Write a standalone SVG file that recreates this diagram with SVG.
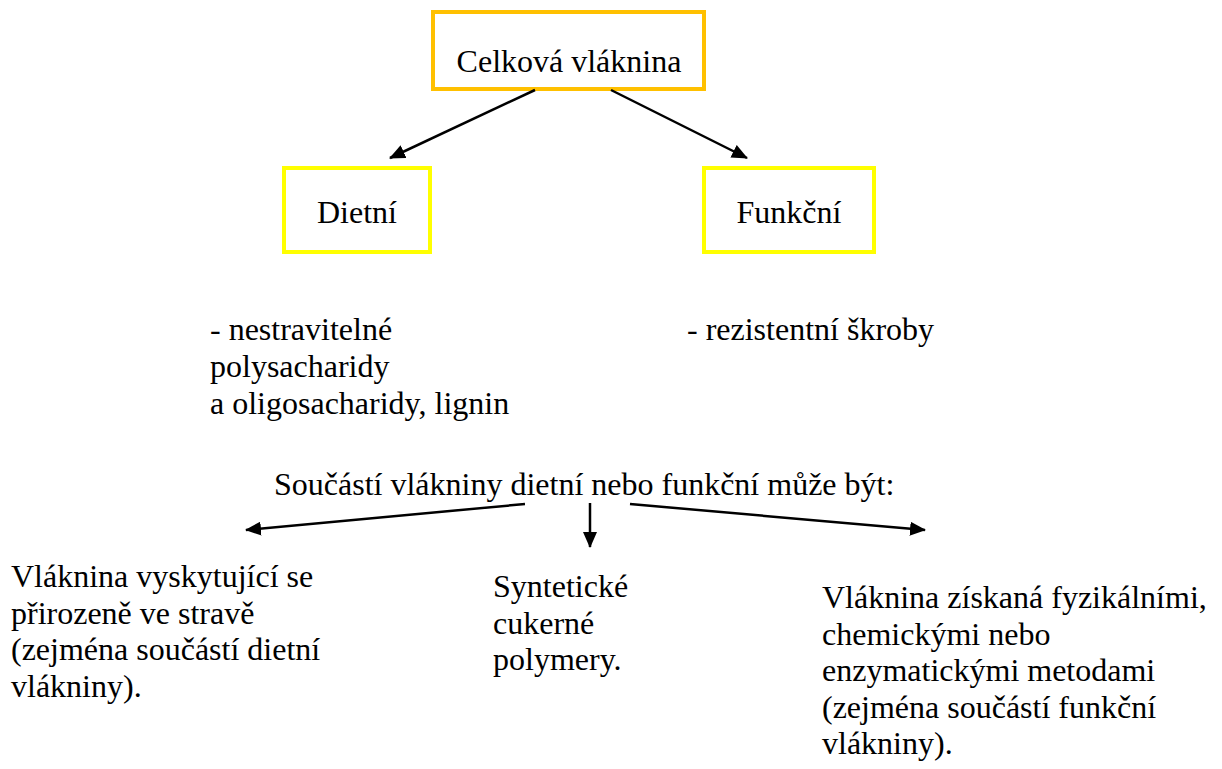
<svg xmlns="http://www.w3.org/2000/svg" width="1222" height="769" viewBox="0 0 1222 769">
<style>
text{font-family:"Liberation Serif","Times New Roman","DejaVu Serif",serif;font-size:32px;fill:#000}
.c{text-anchor:middle}
.box{fill:#fff;stroke-width:4}
.ln{stroke:#000;stroke-width:2.5;fill:none;marker-end:url(#ah)}
</style>
<defs>
<marker id="ah" viewBox="0 0 16 14" refX="15" refY="7" markerWidth="16" markerHeight="14" markerUnits="userSpaceOnUse" orient="auto"><path d="M0,0 L16,7 L0,14 z" fill="#000"/></marker>
</defs>
<rect width="1222" height="769" fill="#fff"/>
<g id="celkova"><rect class="box" x="433" y="12" width="271" height="77" stroke="#FFC000"/><text class="c" x="569" y="72">Celková vláknina</text></g>
<g id="dietni"><rect class="box" x="284" y="168" width="146" height="84" stroke="#FFFF00"/><text class="c" x="357" y="223">Dietní</text></g>
<g id="funkcni"><rect class="box" x="704" y="168" width="170" height="84" stroke="#FFFF00"/><text class="c" x="789" y="223">Funkční</text></g>
<g id="connectors">
<line class="ln" x1="535" y1="90" x2="390" y2="158"/>
<line class="ln" x1="611" y1="90" x2="747" y2="158"/>
<line class="ln" x1="525" y1="504" x2="246" y2="530"/>
<line class="ln" x1="590" y1="503" x2="590" y2="547"/>
<line class="ln" x1="630" y1="504" x2="925" y2="530"/>
</g>
<g id="t-dietni"><text x="210" y="340">- nestravitelné</text><text x="210" y="377">polysacharidy</text><text x="210" y="414">a oligosacharidy, lignin</text></g>
<g id="t-funkcni"><text x="687" y="340">- rezistentní škroby</text></g>
<g id="t-soucasti"><text x="274" y="495">Součástí vlákniny dietní nebo funkční může být:</text></g>
<g id="t-left"><text x="11" y="587">Vláknina vyskytující se</text><text x="11" y="624">přirozeně ve stravě</text><text x="11" y="660">(zejména součástí dietní</text><text x="11" y="697">vlákniny).</text></g>
<g id="t-mid"><text x="493" y="597">Syntetické</text><text x="493" y="634">cukerné</text><text x="493" y="670">polymery.</text></g>
<g id="t-right"><text x="822" y="608">Vláknina získaná fyzikálními,</text><text x="822" y="645">chemickými nebo</text><text x="822" y="681">enzymatickými metodami</text><text x="822" y="718">(zejména součástí funkční</text><text x="822" y="754">vlákniny).</text></g>
</svg>
